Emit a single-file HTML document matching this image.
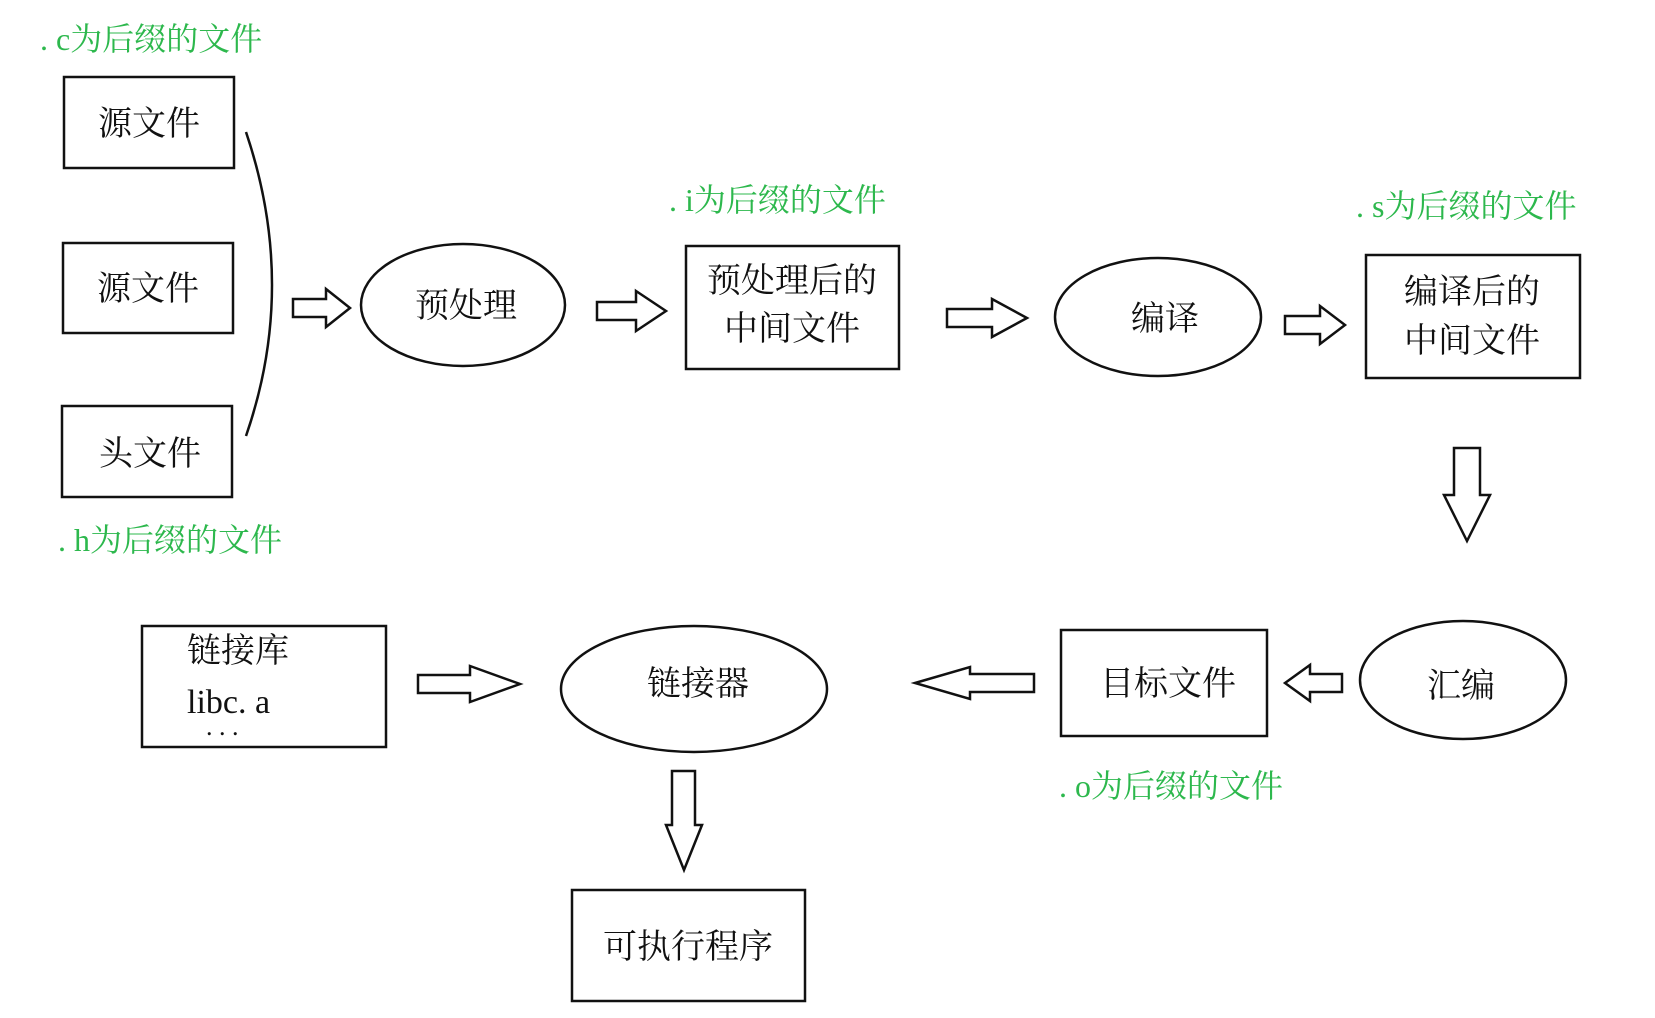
<!DOCTYPE html>
<html><head><meta charset="utf-8"><style>
html,body{margin:0;padding:0;background:#fff;}
svg{display:block;}
text{font-family:"Liberation Serif","Noto Serif CJK SC",serif;}
.t{font-size:34px;fill:#111;}
.g{font-size:32px;fill:#2db84d;}
.s{fill:#fff;stroke:#111;stroke-width:2.5;}
</style></head><body>
<svg width="1655" height="1018" viewBox="0 0 1655 1018">
<text class="g" x="40" y="50">. c为后缀的文件</text>
<rect class="s" x="64" y="77" width="170" height="91"/>
<text class="t" x="149" y="135" text-anchor="middle">源文件</text>
<rect class="s" x="63" y="243" width="170" height="90"/>
<text class="t" x="148" y="300" text-anchor="middle">源文件</text>
<rect class="s" x="62" y="406" width="170" height="91"/>
<text class="t" x="150" y="465" text-anchor="middle">头文件</text>
<path d="M246,132 Q298,286 246,436" fill="none" stroke="#111" stroke-width="2.5"/>
<text class="g" x="58" y="551">. h为后缀的文件</text>

<polygon class="s" points="293,299 326,299 326,289 350,308 326,327 326,317 293,317"/>
<ellipse class="s" cx="463" cy="305" rx="102" ry="61"/>
<text class="t" x="466" y="317" text-anchor="middle">预处理</text>
<polygon class="s" points="597,302 636,302 636,291 666,311 636,331 636,320 597,320"/>
<text class="g" x="669" y="211">. i为后缀的文件</text>
<rect class="s" x="686" y="246" width="213" height="123"/>
<text class="t" x="792" y="292" text-anchor="middle">预处理后的</text>
<text class="t" x="792" y="340" text-anchor="middle">中间文件</text>
<polygon class="s" points="947,309 992,309 992,299 1027,318 992,337 992,327 947,327"/>
<ellipse class="s" cx="1158" cy="317" rx="103" ry="59"/>
<text class="t" x="1165" y="330" text-anchor="middle">编译</text>
<polygon class="s" points="1285,316 1320,316 1320,306 1345,325 1320,344 1320,334 1285,334"/>
<text class="g" x="1356" y="217">. s为后缀的文件</text>
<rect class="s" x="1366" y="255" width="214" height="123"/>
<text class="t" x="1472" y="303" text-anchor="middle">编译后的</text>
<text class="t" x="1472" y="352" text-anchor="middle">中间文件</text>

<polygon class="s" points="1454,448 1480,448 1480,495 1490,495 1467,541 1444,495 1454,495"/>
<ellipse class="s" cx="1463" cy="680" rx="103" ry="59"/>
<text class="t" x="1461" y="697" text-anchor="middle">汇编</text>
<polygon class="s" points="1285,683 1310,665 1310,674 1342,674 1342,692 1310,692 1310,701"/>
<rect class="s" x="1061" y="630" width="206" height="106"/>
<text class="t" x="1168" y="695" text-anchor="middle">目标文件</text>
<text class="g" x="1059" y="797">. o为后缀的文件</text>
<polygon class="s" points="915,683 970,667 970,674 1034,674 1034,692 970,692 970,699"/>
<ellipse class="s" cx="694" cy="689" rx="133" ry="63"/>
<text class="t" x="698" y="695" text-anchor="middle">链接器</text>
<rect class="s" x="142" y="626" width="244" height="121"/>
<text class="t" x="187" y="662">链接库</text>
<text class="t" x="187" y="713">libc. a</text>
<text class="t" x="206" y="735" style="font-size:26px">. . .</text>
<polygon class="s" points="418,675 470,675 470,666 520,684 470,702 470,693 418,693"/>
<polygon class="s" points="672,771 695,771 695,825 702,825 684,870 666,825 672,825"/>
<rect class="s" x="572" y="890" width="233" height="111"/>
<text class="t" x="688" y="958" text-anchor="middle">可执行程序</text>
</svg>
</body></html>
